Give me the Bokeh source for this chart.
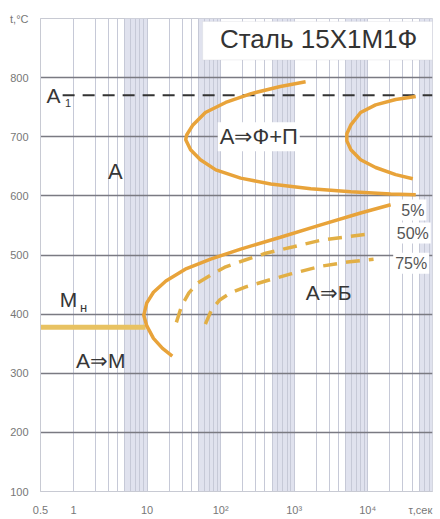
from bokeh.plotting import figure
from bokeh.models import FixedTicker, Label, BoxAnnotation
from bokeh.embed import file_html
from bokeh.resources import INLINE

# ---------------- data ----------------
x_start, x_end = 0.355, 76000
y_start, y_end = 100, 900

x_tick_values = [0.355, 1, 10, 100, 1000, 10000, 52000]
x_tick_labels = ["0.5", "1", "10", "10²", "10³", "10⁴", "τ,сек"]
y_tick_values = [100, 200, 300, 400, 500, 600, 700, 800, 900]
y_tick_labels = ["100", "200", "300", "400", "500", "600", "700", "800", "t,°C"]

# shaded bands (5..10 in each decade)
band_left = [5, 50, 500, 5000, 50000]
band_right = [10, 100, 1000, 10000, 100000]

# critical points
a1_temp = 770
a1_time = [0.71, 76000]
ms_temp = 378
ms_time = [0.355, 9.5]

# A -> F+P start (C-curve)
fp_start_t = [1430, 650, 260, 117, 62, 42, 34.5, 33.5, 39, 53, 86, 187, 480, 1680, 5900, 20500, 45000]
fp_start_T = [793, 785, 773, 758, 741, 720, 703, 695, 678, 661, 644, 630, 620, 612, 607, 603, 602]

# A -> F+P finish (C-curve)
fp_end_t = [45000, 24000, 12800, 8000, 5900, 5200, 5200, 5900, 8000, 12800, 24000, 41000]
fp_end_T = [768, 763, 754, 741, 720, 705, 693, 678, 661, 648, 636, 629]

# A -> B, 5 %
bain5_t = [22, 16.2, 12.2, 9.9, 9.0, 9.9, 12.2, 18, 33, 73, 187, 650, 2300, 8000, 20500]
bain5_T = [329, 342, 359, 380, 398, 419, 437, 456, 476, 493, 510, 530, 551, 571, 585]

# A -> B, 50 %
bain50_t = [25, 29.5, 37, 49, 73, 117, 220, 410, 980, 2300, 5300, 11000]
bain50_T = [386, 414, 436, 453, 466, 480, 492, 503, 514, 525, 531, 536]

# A -> B, 75 %
bain75_t = [62, 75, 97, 137, 220, 410, 900, 2300, 5300, 12000]
bain75_T = [383, 407, 424, 436, 446, 456, 468, 481, 488, 493]

# ---------------- figure ----------------
p = figure(width=440, height=519, x_axis_type="log",
           x_range=(x_start, x_end), y_range=(y_start, y_end),
           output_backend="svg", toolbar_location=None,
           min_border_left=40, min_border_right=8, min_border_top=18, min_border_bottom=28)
p.outline_line_color = "#c8cad3"
p.background_fill_color = "white"

FONT = "Liberation Sans"

# axes
p.xaxis.ticker = FixedTicker(ticks=x_tick_values)
p.xaxis.major_label_overrides = dict(zip(x_tick_values, x_tick_labels))
p.yaxis.ticker = FixedTicker(ticks=y_tick_values)
p.yaxis.major_label_overrides = dict(zip(y_tick_values, y_tick_labels))
for ax in (p.xaxis[0], p.yaxis[0]):
    ax.major_tick_line_color = None
    ax.minor_tick_line_color = None
    ax.axis_line_color = "#c8cad3"
    ax.major_label_text_font = FONT
    ax.major_label_text_font_size = "11px"
    ax.major_label_text_color = "#777777"
    ax.major_label_standoff = 6

# grids
grid_ticks = [m * 10 ** k for k in range(0, 5) for m in range(1, 10)]
p.xgrid.ticker = FixedTicker(ticks=grid_ticks)
p.xgrid.grid_line_color = "#c6c9d7"
p.xgrid.grid_line_width = 1
p.ygrid.ticker = FixedTicker(ticks=[200, 300, 400, 500, 600, 700, 800])
p.ygrid.grid_line_color = "#7a7a82"
p.ygrid.grid_line_width = 1.6

# shaded bands
p.quad(left=band_left, right=band_right, bottom=y_start, top=y_end,
       fill_color="#e0e2ee", fill_alpha=1.0, line_color=None, level="image")

# A1 line
p.line(a1_time, [a1_temp, a1_temp], line_color="#333333", line_width=2, line_dash="12 8")
# Ms line
p.line(ms_time, [ms_temp, ms_temp], line_color="#E8C262", line_width=5)

ORANGE = "#E8A33A"
DASHC = "#E2AF45"
p.line(fp_start_t, fp_start_T, line_color=ORANGE, line_width=3.5)
p.line(fp_end_t, fp_end_T, line_color=ORANGE, line_width=3.5)
p.line(bain5_t, bain5_T, line_color=ORANGE, line_width=3.5)
p.line(bain50_t, bain50_T, line_color=DASHC, line_width=3.5, line_dash="14 9")
p.line(bain75_t, bain75_T, line_color=DASHC, line_width=3.5, line_dash="14 9")

# title box
p.add_layout(BoxAnnotation(left=57, right=x_end, top=895, bottom=830,
                           fill_color="white", fill_alpha=1.0,
                           line_color="#cfd1d8", line_width=1))
p.add_layout(Label(x=2150, y=866, text="Сталь 15Х1М1Ф", text_font=FONT,
                   text_font_size="26px", text_color="#333333",
                   text_align="center", text_baseline="middle"))

def lab(x, y, text, size, color="#363636", bg=None, align="center"):
    kw = {}
    if bg:
        kw = dict(background_fill_color=bg, background_fill_alpha=1.0, padding=2)
    p.add_layout(Label(x=x, y=y, text=text, text_font=FONT, text_font_size=size,
                       text_color=color, text_align=align, text_baseline="middle", **kw))

lab(3.7, 641, "A", "22px")
lab(330, 700, "A⇒Ф+П", "22px", bg="white")
lab(2950, 436, "A⇒Б", "21px")
lab(2.35, 322, "A⇒M", "21px")
lab(0.535, 769, "A", "21px")
lab(0.84, 757, "1", "11px")
lab(0.85, 424, "M", "21px")
lab(1.37, 412, "н", "13px")
lab(41000, 576, "5%", "16px", color="#555555", bg="white")
lab(41000, 537, "50%", "16px", color="#555555", bg="white")
lab(39000, 486, "75%", "16px", color="#555555", bg="white")

open("out.html", "w").write(file_html(p, INLINE))
